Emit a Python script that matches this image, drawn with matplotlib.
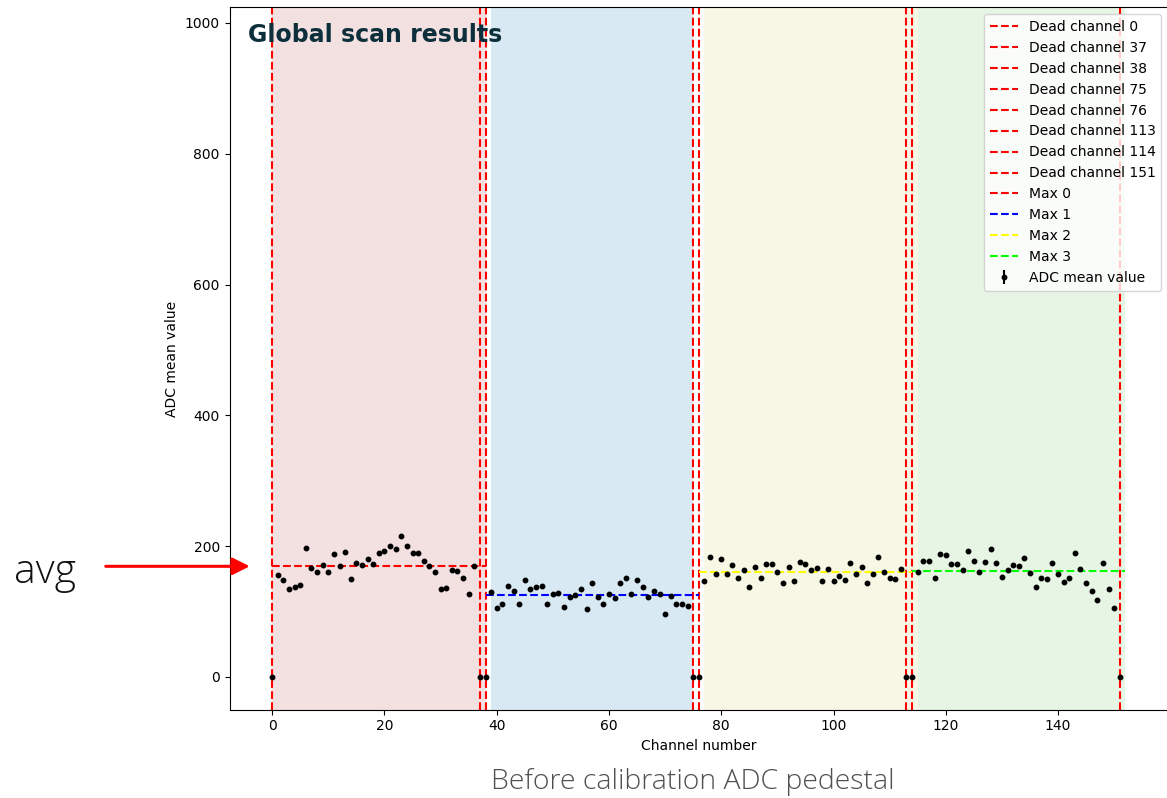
import numpy as np
import matplotlib.pyplot as plt

# Channels with no signal (read out as 0)
dead_channels = [0, 37, 38, 75, 76, 113, 114, 151]

# ADC mean value per live channel, one list per readout group
adc_g0 = [156, 149, 134, 137, 141, 197, 167, 160, 171, 160,
          188, 169, 191, 150, 175, 171, 180, 172, 189, 192,
          200, 196, 216, 200, 189, 189, 178, 169, 161, 135,
          136, 163, 162, 152, 127, 169]
adc_g1 = [130, 106, 112, 139, 132, 112, 148, 135, 138, 139,
          112, 127, 129, 107, 122, 125, 134, 104, 143, 123,
          112, 127, 121, 143, 151, 127, 149, 137, 122, 131,
          127, 96, 124, 112, 111, 108]
adc_g2 = [147, 183, 157, 180, 158, 171, 151, 164, 137, 168,
          152, 173, 172, 160, 143, 168, 146, 176, 172, 164,
          166, 147, 165, 146, 154, 148, 175, 158, 168, 144,
          158, 183, 160, 152, 150, 165]
adc_g3 = [161, 177, 177, 151, 188, 186, 173, 172, 163, 192,
          177, 160, 176, 195, 175, 153, 164, 171, 170, 182,
          159, 138, 151, 150, 174, 158, 145, 152, 190, 165,
          144, 132, 117, 174, 135, 106]
adc_groups = [adc_g0, adc_g1, adc_g2, adc_g3]

# Group boundaries (channel numbers) for the group level lines
group_edges = [0, 38, 76, 114, 152]
group_line_colors = ['red', 'blue', 'yellow', 'lime']

# Shaded background bands for each group
band_ranges = [(0, 38), (39, 75), (77, 115), (115, 152)]
band_colors = ['#f3e0e0', '#d9e9f3', '#f7f7e6', '#e7f5e4']

n_channels = 152
channels = np.arange(n_channels)
adc = np.zeros(n_channels)
live = [ch for ch in channels if ch not in dead_channels]
adc[live] = np.concatenate(adc_groups)

plt.rcParams['font.size'] = 10

fig = plt.figure(figsize=(11.67, 7.98), dpi=100)
ax = fig.add_axes([0.1967, 0.1107, 0.8042, 0.8802])

for (lo, hi), c in zip(band_ranges, band_colors):
    ax.axvspan(lo, hi, color=c, lw=0, zorder=0)

for ch in dead_channels:
    ax.axvline(ch, color='red', ls='--', lw=1.5, label=f'Dead channel {ch}')

group_means = [float(np.mean(g)) for g in adc_groups]
for i, (m, c) in enumerate(zip(group_means, group_line_colors)):
    ax.plot([group_edges[i], group_edges[i + 1]], [m, m], ls='--', color=c,
            lw=1.5, label=f'Max {i}')

ax.errorbar(channels, adc, yerr=0, fmt='o', color='black', markersize=3.2,
            label='ADC mean value')

ax.set_xlim(-7.6, 159.6)
ax.set_ylim(-50, 1024)
ax.set_xlabel('Channel number')
ax.set_ylabel('ADC mean value')
ax.legend(loc='upper right')

ax.text(0.02, 0.978, 'Global scan results', transform=ax.transAxes,
        fontsize=17, fontweight='bold', color='#0d2f3b', va='top')

# Pointer to the first group's average level
ax.annotate('', xy=(-4, group_means[0]), xycoords='data',
            xytext=(-144, 0), textcoords='offset pixels',
            arrowprops=dict(arrowstyle='-|>', color='red', lw=2.2,
                            mutation_scale=26, shrinkA=0, shrinkB=0),
            annotation_clip=False)

slide_font = ['Open Sans', 'DejaVu Sans']
fig.text(14 / 1167, (798 - 583) / 798, 'avg', fontsize=29.5,
         family=slide_font, fontweight='light', color='#111111',
         va='baseline', ha='left')
fig.text(693 / 1167, (798 - 789) / 798, 'Before calibration ADC pedestal',
         fontsize=20.4, family=slide_font, fontweight='light',
         color='#505050', va='baseline', ha='center')

fig.savefig('out.png', dpi=100)
